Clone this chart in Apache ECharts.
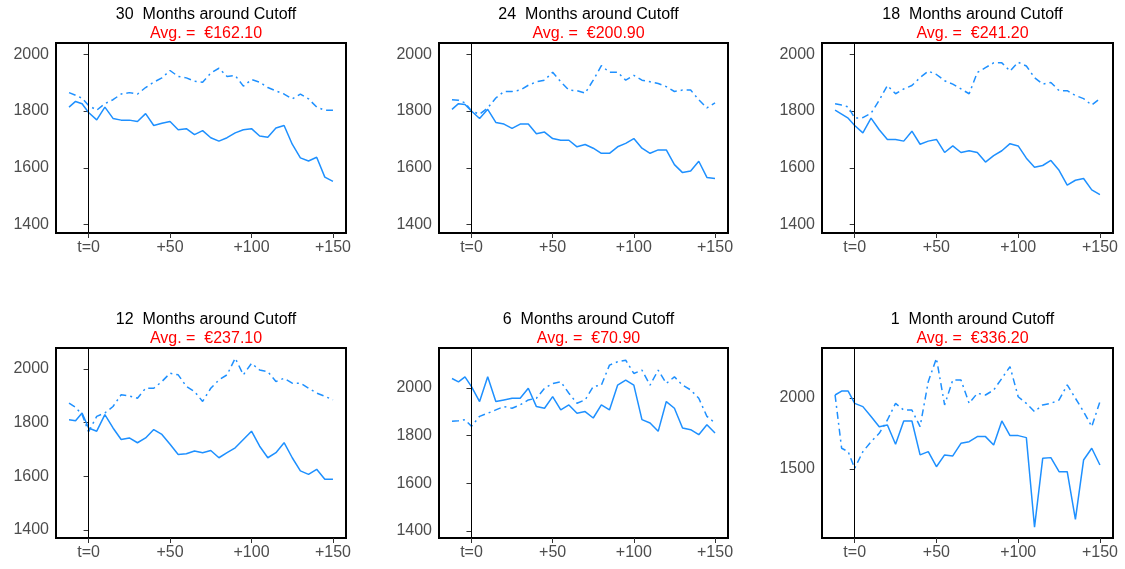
<!doctype html>
<html>
<head>
<meta charset="UTF-8">
<title>Months around Cutoff</title>
<script src="https://cdn.jsdelivr.net/npm/echarts@6/dist/echarts.min.js"></script>
<style>html,body{margin:0;padding:0;background:#fff}</style>
</head>
<body>
<div id="main" style="width:1125px;height:569px;"></div>
<script type="text/javascript">
    // shared time grid (days around cutoff)
    var ts = [-12,-8,-4,0,5,10,15,20,25,30,35,40,45,50,55,60,65,70,75,80,85,90,95,100,105,110,115,120,125,130,135,140,145,150];

    var titles = ['30  Months around Cutoff','24  Months around Cutoff','18  Months around Cutoff',
                  '12  Months around Cutoff','6  Months around Cutoff','1  Month around Cutoff'];
    var avgs = ['Avg. =  €162.10','Avg. =  €200.90','Avg. =  €241.20','Avg. =  €237.10','Avg. =  €70.90','Avg. =  €336.20'];

    var solid30 = [1814,1834,1826,1795,1769,1814,1774,1768,1768,1763,1791,1749,1757,1763,1734,1738,1717,1731,1706,1694,1706,1723,1734,1738,1712,1708,1740,1749,1683,1635,1624,1637,1567,1552];
    var dash30 = [1865,1856,1845,1820,1803,1826,1840,1860,1865,1860,1883,1902,1917,1943,1922,1917,1905,1902,1934,1951,1922,1925,1888,1911,1902,1883,1871,1860,1843,1860,1843,1814,1803,1803];
    var solid24 = [1806,1826,1823,1800,1774,1806,1760,1754,1739,1754,1754,1720,1726,1703,1697,1697,1674,1682,1669,1651,1651,1674,1686,1703,1669,1651,1663,1663,1611,1583,1589,1623,1566,1562];
    var dash24 = [1840,1838,1829,1800,1789,1811,1846,1869,1869,1874,1891,1903,1909,1937,1903,1874,1872,1863,1909,1960,1937,1937,1909,1926,1909,1903,1897,1886,1869,1874,1874,1840,1811,1829];
    var solid18 = [1803,1789,1775,1749,1723,1775,1734,1700,1700,1694,1729,1683,1694,1700,1654,1677,1654,1660,1654,1620,1643,1660,1685,1677,1634,1602,1608,1626,1591,1539,1556,1562,1522,1505];
    var dash18 = [1826,1821,1815,1775,1777,1792,1838,1890,1861,1878,1890,1918,1941,1929,1907,1895,1878,1861,1936,1953,1970,1970,1941,1972,1959,1918,1895,1901,1872,1872,1855,1844,1821,1844];
    var solid12 = [1811,1807,1836,1780,1768,1830,1780,1737,1743,1725,1743,1774,1756,1719,1681,1684,1694,1688,1696,1669,1688,1706,1737,1768,1712,1669,1688,1725,1669,1620,1607,1626,1589,1589];
    var dash12 = [1873,1857,1830,1766,1823,1836,1860,1904,1899,1891,1928,1928,1953,1984,1978,1935,1916,1879,1928,1959,1978,2040,1978,2021,1996,1990,1953,1965,1947,1947,1928,1910,1898,1885];
    var solid6 = [2040,2026,2047,2006,1943,2047,1943,1950,1957,1957,1999,1922,1915,1964,1908,1929,1894,1901,1874,1929,1908,2012,2033,2012,1867,1853,1818,1943,1915,1832,1825,1804,1846,1811];
    var dash6 = [1860,1862,1867,1839,1881,1894,1908,1922,1915,1929,1950,1957,1999,2019,2026,1978,1936,1950,2006,2012,2096,2110,2117,2061,2075,2012,2075,2019,2047,2012,1992,1957,1881,1853];
    var solid1 = [2021,2049,2049,1962,1939,1869,1798,1810,1674,1838,1838,1599,1622,1516,1599,1592,1681,1692,1728,1728,1669,1838,1735,1735,1721,1090,1575,1580,1481,1481,1145,1563,1646,1528];
    var dash1 = [2021,1646,1622,1505,1622,1692,1751,1845,1962,1915,1915,1798,2115,2279,1951,2127,2127,1962,2033,2021,2056,2138,2221,2009,1962,1904,1951,1962,1986,2092,1998,1904,1798,1974];

    var solids = [solid30, solid24, solid18, solid12, solid6, solid1];
    var dashes = [dash30, dash24, dash18, dash12, dash6, dash1];
    var yMin = [1370,1370,1370,1370,1370,1014];
    var yMax = [2040,2040,2040,2078,2168,2352];
    var yTicks = [[1400,1600,1800,2000],[1400,1600,1800,2000],[1400,1600,1800,2000],
                  [1400,1600,1800,2000],[1400,1600,1800,2000],[1500,2000]];

    var lefts = [56, 439, 822];
    var widths = [290, 289, 291];
    var tops = [43, 348];
    var height = 190;

    function pairs(arr) {
        return ts.map(function (t, i) { return [t, arr[i]]; });
    }

    var myChart = echarts.init(document.getElementById('main'));
    var grid = [], xAxis = [], yAxis = [], series = [], title = [];
    var blue = '#1E90FF';
    for (var i = 0; i < 6; i++) {
        var col = i % 3, row = Math.floor(i / 3);
        var cx = lefts[col] + widths[col] / 2;
        grid.push({left: lefts[col], top: tops[row], width: widths[col], height: height,
            show: true, borderColor: '#000', borderWidth: 2, backgroundColor: '#fff'});
        title.push({text: titles[i], left: cx, top: tops[row] - 41, textAlign: 'center',
            textStyle: {color: '#000', fontSize: 16, fontWeight: 'normal', fontFamily: 'Liberation Sans'}});
        title.push({text: avgs[i], left: cx, top: tops[row] - 22, textAlign: 'center',
            textStyle: {color: '#ff0000', fontSize: 16, fontWeight: 'normal', fontFamily: 'Liberation Sans'}});
        xAxis.push({type: 'value', gridIndex: i, min: -20, max: 158,
            splitLine: {show: false}, axisLine: {show: false},
            axisTick: {show: true, length: 5, lineStyle: {color: '#333'}, customValues: [0, 50, 100, 150]},
            axisLabel: {color: '#4d4d4d', fontSize: 16, fontFamily: 'Liberation Sans', margin: 7,
                customValues: [0, 50, 100, 150],
                formatter: function (v) { return v === 0 ? 't=0' : '+' + v; }}});
        yAxis.push({type: 'value', gridIndex: i, min: yMin[i], max: yMax[i],
            splitLine: {show: false}, axisLine: {show: false},
            axisTick: {show: true, length: 5, lineStyle: {color: '#333'}, customValues: yTicks[i]},
            axisLabel: {color: '#4d4d4d', fontSize: 16, fontFamily: 'Liberation Sans', margin: 7,
                customValues: yTicks[i],
                formatter: function (v) { return String(v); }}});
        series.push({type: 'line', xAxisIndex: i, yAxisIndex: i, data: pairs(solids[i]),
            showSymbol: false, lineStyle: {color: blue, width: 1.5},
            markLine: {silent: true, symbol: 'none', label: {show: false},
                lineStyle: {color: '#000', width: 1, type: 'solid'}, data: [{xAxis: 0}]}});
        series.push({type: 'line', xAxisIndex: i, yAxisIndex: i, data: pairs(dashes[i]),
            showSymbol: false, lineStyle: {color: blue, width: 1.5, type: [7, 4, 2, 4]}});
    }

    var option = {
        animation: false,
        backgroundColor: '#fff',
        title: title,
        grid: grid,
        xAxis: xAxis,
        yAxis: yAxis,
        series: series
    };
    myChart.setOption(option);
</script>
</body>
</html>
